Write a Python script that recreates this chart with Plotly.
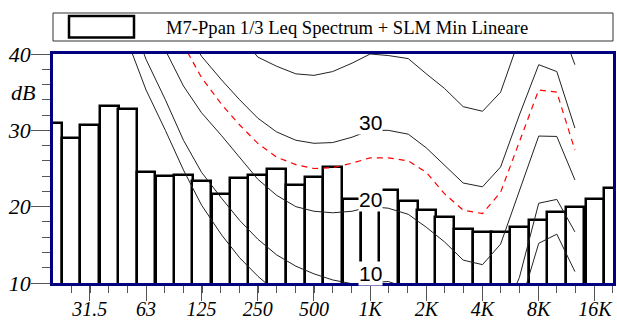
import math
import plotly.graph_objects as go

# ---- 1/3 octave spectrum (bars) ----
band_freqs = [20, 25, 31.5, 40, 50, 63, 80, 100, 125, 160, 200, 250, 315, 400, 500, 630,
              800, 1000, 1250, 1600, 2000, 2500, 3150, 4000, 5000, 6300, 8000, 10000,
              12500, 16000, 20000]
leq_db = [30.9, 28.95, 30.7, 33.2, 32.75, 24.5, 24.0, 24.2, 23.3, 21.7, 23.7, 24.1, 25.0,
          22.9, 23.9, 25.15, 21.0, 21.3, 22.2, 20.8, 19.55, 18.7, 17.1, 16.7, 16.7, 17.3,
          18.25, 19.25, 20.0, 20.95, 22.5]

# ---- equal-loudness contours (20 Hz .. 12.5 kHz) ----
contour_freqs = band_freqs[:29]
threshold_db = [74, 65, 57, 49, 41.8, 35.3, 30.0, 24.8, 20.2, 16.3, 13.3, 10.9, 8.8, 7.0,
                5.5, 4.5, 4.0, 4.0, 4.0, 3.0, 1.0, -1.0, -3.0, -3.0, 0.0, 6.7, 15.2, 16.4, 11.5]
phon10_db = [76, 68, 60, 53, 46.0, 39.3, 34.0, 28.7, 24.5, 21.1, 18.2, 15.75, 13.7, 12.2,
             11.2, 10.4, 9.9, 10.0, 10.2, 9.3, 7.0, 4.8, 3.0, 2.6, 5.0, 10.7, 20.45, 20.95, 16.7]
phon20_db = [85, 77, 69, 60, 52, 45, 40.5, 35.8, 32.3, 29.3, 26.4, 23.6, 21.5, 20.0, 19.4,
             19.2, 19.4, 20.0, 19.8, 19.0, 17.3, 15.4, 13.0, 12.4, 15.1, 22.2, 29.25, 29.2, 23.5]
phon30_db = [90, 83, 75, 67, 60, 53, 47.5, 43.5, 39.7, 36.6, 34.0, 31.6, 29.8, 28.7, 28.3,
             28.4, 29.1, 30.0, 30.0, 29.5, 27.7, 25.5, 23.1, 22.6, 25.2, 32.0, 38.6, 37.7, 30.3]
phon40_db = [95, 88, 81, 74, 67, 61, 55, 50.5, 47, 44.5, 42.5, 39.6, 38.4, 37.4, 37.2, 37.7,
             38.8, 40.0, 39.8, 39.4, 37.4, 35.5, 33.1, 32.5, 35.0, 42.0, 47.0, 45.0, 38.6]
slm_min_db = [92, 85, 77, 70, 62, 55, 47, 41.2, 36.9, 33.4, 30.7, 28.3, 26.5, 25.5, 25.0,
              25.1, 25.7, 26.4, 26.4, 26.0, 24.5, 21.7, 19.55, 19.1, 21.9, 28.5, 35.3, 35.0, 27.4]

contour_labels = ["10", "20", "30"]
contour_label_values = [10, 20, 30]

tick_freqs = [31.5, 63, 125, 250, 500, 1000, 2000, 4000, 8000, 16000]
tick_text = ["31.5", "63", "125", "250", "500", "1K", "2K", "4K", "8K", "16K"]
legend_text = "M7-Ppan 1/3 Leq Spectrum + SLM Min Lineare"

def lx(vals):
    return [math.log10(v) for v in vals]

serif = "Liberation Serif"
navy = "#000080"
PH = 229.0  # plot height in px
PW = 560.0

fig = go.Figure()
fig.add_trace(go.Bar(x=lx(band_freqs), y=leq_db, width=math.log10(2) / 3,
                     marker=dict(color="white", line=dict(color="black", width=2.5)),
                     showlegend=False))

for vals in [threshold_db, phon10_db, phon20_db, phon30_db, phon40_db]:
    fig.add_trace(go.Scatter(x=lx(contour_freqs), y=vals, mode="lines",
                             line=dict(color="#222222", width=1), showlegend=False))
fig.add_trace(go.Scatter(x=lx(contour_freqs), y=slm_min_db, mode="lines",
                         line=dict(color="#ff0000", width=1.2, dash="6px,5px"),
                         showlegend=False))

for txt, v in zip(contour_labels, contour_label_values):
    fig.add_annotation(x=math.log10(1000), y=v, xref="x", yref="y", text=txt,
                       showarrow=False, yanchor="bottom", xanchor="center",
                       yshift=-3 if v == 10 else -5,
                       bgcolor="white", borderpad=0,
                       font=dict(family="Liberation Sans", size=21, color="black"))

# y-axis title
fig.add_annotation(x=-30 / PW, y=35, xref="paper", yref="y", text="dB", showarrow=False,
                   xanchor="center", yanchor="middle",
                   font=dict(family=serif, size=22, color="black", style="italic"))

# legend box (drawn)
fig.add_shape(type="rect", xref="paper", yref="paper", x0=0, x1=1,
              y0=1 + (54 - 41) / PH, y1=1 + (54 - 13) / PH,
              line=dict(color="#333333", width=1), fillcolor="white")
fig.add_shape(type="rect", xref="paper", yref="paper",
              x0=(69 - 53) / PW, x1=(134 - 53) / PW,
              y0=1 + (54 - 37.5) / PH, y1=1 + (54 - 16) / PH,
              line=dict(color="black", width=2.5), fillcolor="white")
fig.add_annotation(x=(164 - 53) / PW, y=1 + (54 - 27) / PH, xref="paper", yref="paper",
                   text=legend_text, showarrow=False, xanchor="left", yanchor="middle",
                   font=dict(family=serif, size=18.6, color="black"))

fig.update_layout(
    width=617, height=322,
    margin=dict(l=53, r=4, t=54, b=39, autoexpand=False),
    paper_bgcolor="white", plot_bgcolor="white",
    bargap=0,
    xaxis=dict(range=[math.log10(20), math.log10(20000)], tickmode="array",
               tickvals=lx(tick_freqs), ticktext=tick_text, automargin=False,
               ticks="outside", ticklen=15, tickcolor="#555555", tickwidth=1,
               ticklabelstandoff=-9,
               minor=dict(dtick=0.1, tick0=1.5, ticks="outside", ticklen=7,
                          tickcolor="#555555", tickwidth=1),
               showgrid=False, zeroline=False,
               showline=True, linecolor=navy, linewidth=2.5, mirror=True,
               tickfont=dict(family=serif, size=20, color="black", style="italic")),
    yaxis=dict(range=[10, 40], tickmode="array", tickvals=[10, 20, 30, 40],
               automargin=False,
               ticks="outside", ticklen=19, tickcolor="#555555", tickwidth=1,
               ticklabelstandoff=-4,
               minor=dict(dtick=2, tick0=10, ticks="outside", ticklen=8,
                          tickcolor="#555555", tickwidth=1),
               showgrid=False, zeroline=False,
               showline=True, linecolor=navy, linewidth=2.5, mirror=True,
               tickfont=dict(family=serif, size=22, color="black", style="italic")),
)

fig.write_html("out.html", config={"displayModeBar": False},
               post_script="document.body.style.margin='0';")
